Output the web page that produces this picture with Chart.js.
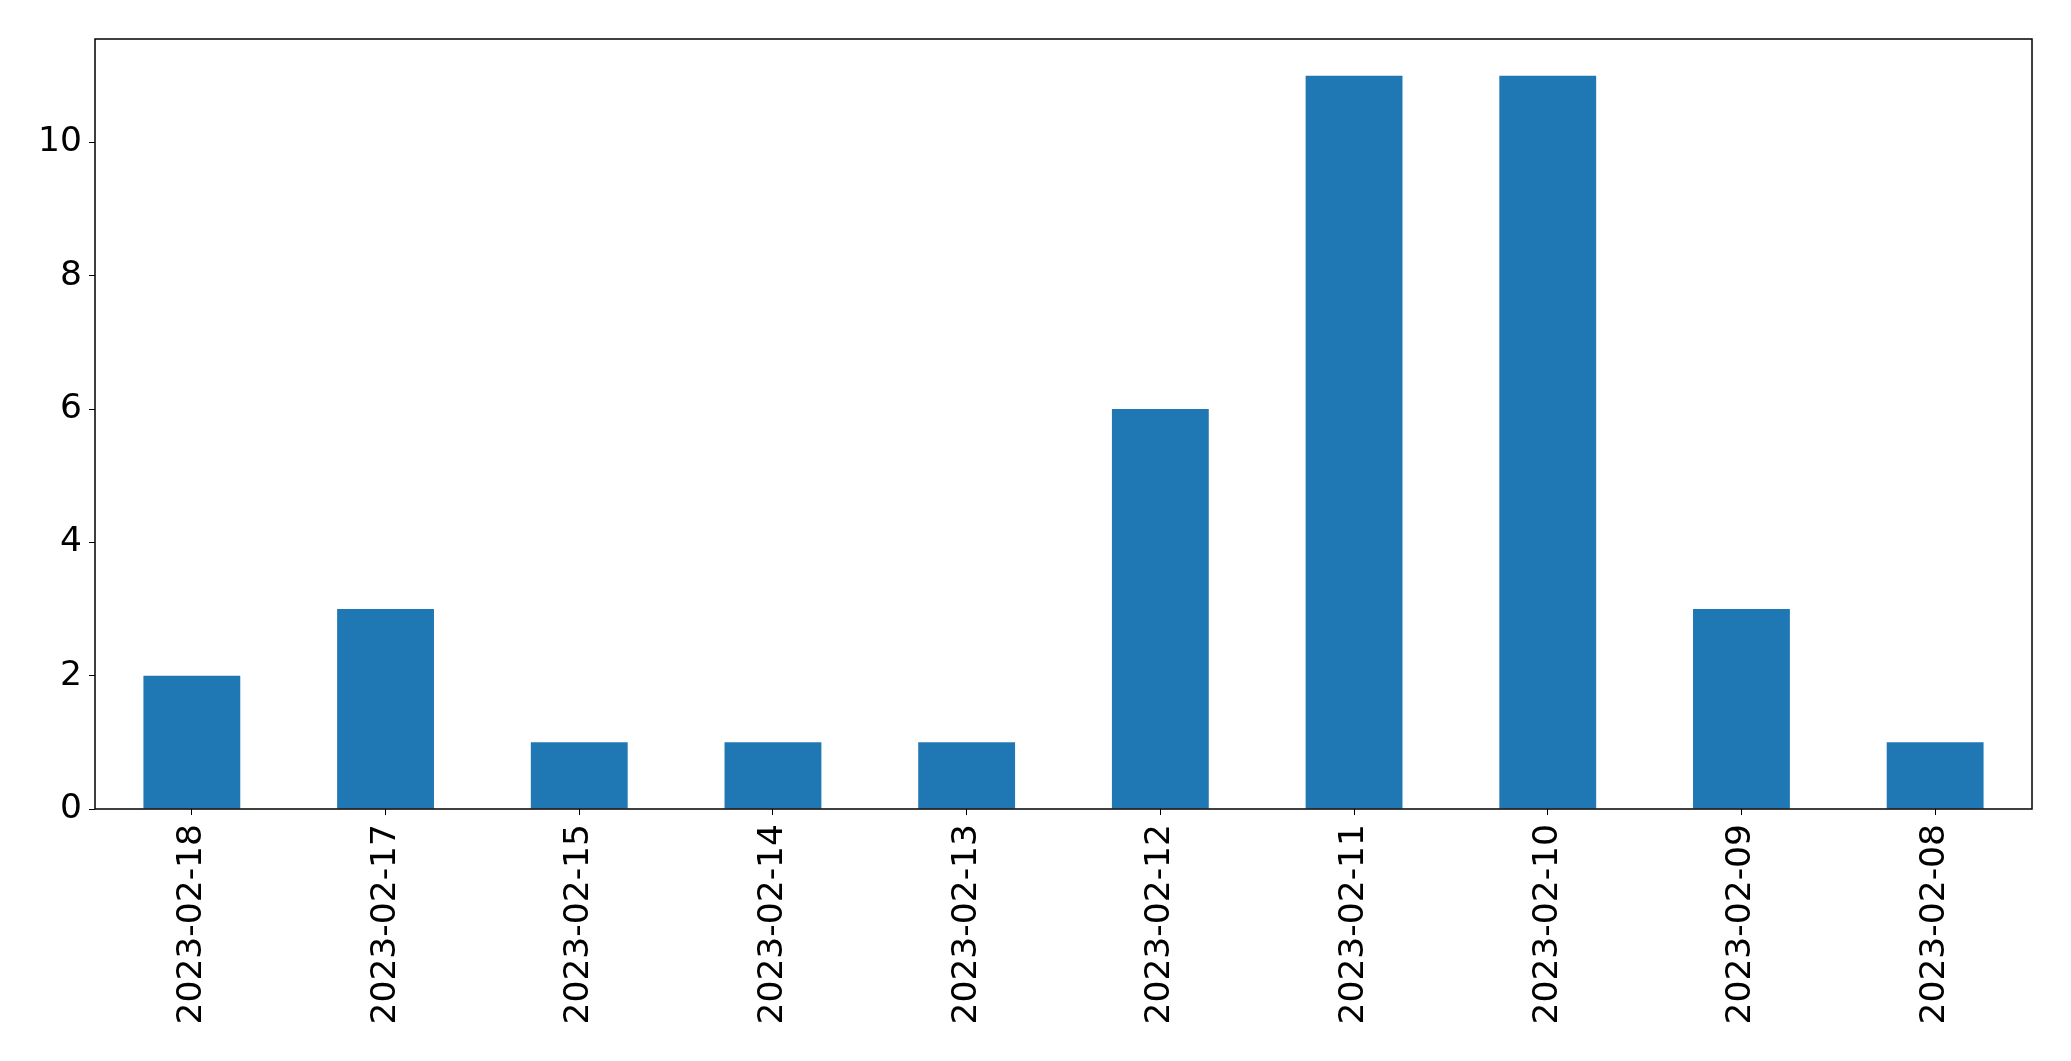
<!DOCTYPE html>
<html>
<head>
<meta charset="utf-8">
<script src="https://cdn.jsdelivr.net/npm/chart.js@4/dist/chart.umd.min.js"></script>
<style>
  html, body { margin: 0; padding: 0; background: #fff; }
  #wrap { width: 2071px; height: 1061px; }
</style>
</head>
<body>
<div id="wrap"><canvas id="barChart" width="2071" height="1061"></canvas></div>
<script>
const dates = [
  "2023-02-18",
  "2023-02-17",
  "2023-02-15",
  "2023-02-14",
  "2023-02-13",
  "2023-02-12",
  "2023-02-11",
  "2023-02-10",
  "2023-02-09",
  "2023-02-08",
];
const counts = [2, 3, 1, 1, 1, 6, 11, 11, 3, 1];
const yTicks = [0, 2, 4, 6, 8, 10];

const font = { family: "DejaVu Sans", size: 34.5 };

// box around the plot area, like the matplotlib frame
const frame = {
  id: "frame",
  afterDraw(chart) {
    const { ctx, chartArea: a } = chart;
    ctx.save();
    ctx.strokeStyle = "#000";
    ctx.lineWidth = 1.5;
    ctx.strokeRect(a.left, a.top, a.right - a.left, a.bottom - a.top);
    ctx.restore();
  },
};

const ctx = document.getElementById("barChart");

new Chart(ctx, {
  type: "bar",
  data: {
    labels: dates,
    datasets: [
      {
        data: counts,
        backgroundColor: "#1f77b4",
        borderWidth: 0,
        barPercentage: 0.5,
        categoryPercentage: 1,
      },
    ],
  },
  plugins: [frame],
  options: {
    responsive: false,
    animation: false,
    layout: { padding: { top: 39, right: 39, left: 0, bottom: 0 } },
    plugins: {
      legend: { display: false },
      tooltip: { enabled: false },
    },
    scales: {
      x: {
        offset: true,
        grid: {
          offset: false,
          drawOnChartArea: false,
          drawTicks: true,
          tickLength: 6,
          color: "#000",
        },
        border: { display: false },
        ticks: {
          color: "#000",
          font: font,
          minRotation: 90,
          maxRotation: 90,
          padding: 9,
          autoSkip: false,
        },
        afterFit(scale) {
          scale.height = 252;
        },
      },
      y: {
        min: 0,
        max: 11.55,
        grid: {
          drawOnChartArea: false,
          drawTicks: true,
          tickLength: 6,
          color: "#000",
        },
        border: { display: false },
        ticks: {
          color: "#000",
          font: font,
          padding: 7,
        },
        afterBuildTicks(scale) {
          scale.ticks = yTicks.map((v) => ({ value: v }));
        },
        afterFit(scale) {
          scale.width = 95;
        },
      },
    },
  },
});
</script>
</body>
</html>
